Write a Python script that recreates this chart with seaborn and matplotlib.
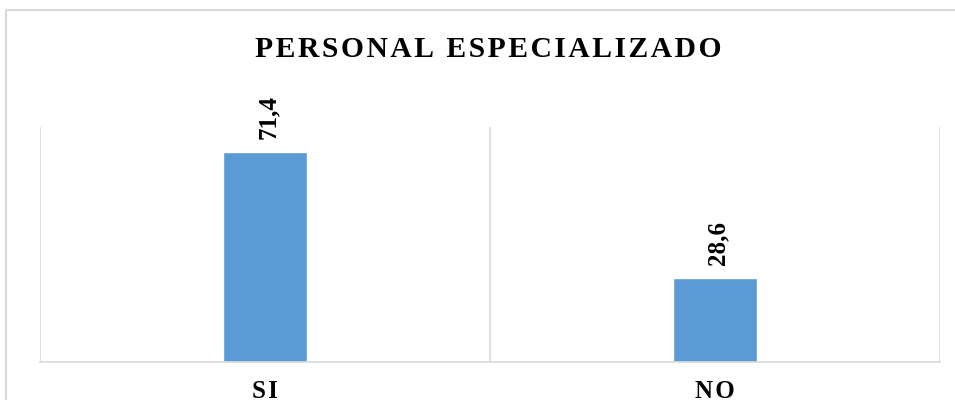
import matplotlib
matplotlib.use("Agg")
import matplotlib.pyplot as plt
import seaborn as sns
import pandas as pd
from matplotlib.lines import Line2D

categories = ["SI", "NO"]
values = [71.4, 28.6]
value_labels = ["71,4", "28,6"]
title = "PERSONAL ESPECIALIZADO"

sns.set_theme(style="white")
plt.rcParams["font.family"] = ["Liberation Serif", "DejaVu Serif"]
plt.rcParams["text.color"] = "black"
plt.rcParams["xtick.color"] = "black"

df = pd.DataFrame({"cat": categories, "val": values})

fig = plt.figure(figsize=(9.55, 4.0), dpi=100)
fig.patch.set_facecolor("white")
# outer chart border (top and left edges visible)
bx, by = 6 / 955, 1 - 10 / 400
fig.add_artist(Line2D([bx, 1.02], [by, by], transform=fig.transFigure, color="#d9d9d9",
                      linewidth=1.5, solid_capstyle="butt"))
fig.add_artist(Line2D([bx, bx], [-0.02, by], transform=fig.transFigure, color="#d9d9d9",
                      linewidth=1.5, solid_capstyle="butt"))

ax = fig.add_axes([40 / 955, 1 - 362 / 400, 900 / 955, (362 - 127) / 400])
sns.barplot(data=df, x="cat", y="val", color="#5b9bd5", width=0.187, ax=ax,
            saturation=1, order=categories)
ax.set_xlim(-0.5, len(categories) - 0.5)
ax.set_ylim(0, 80)
for b in [i - 0.5 for i in range(len(categories) + 1)]:
    ax.axvline(b, color="#d9d9d9", linewidth=1.2, zorder=0)
for s in ["top", "left", "right"]:
    ax.spines[s].set_visible(False)
ax.spines["bottom"].set_color("#d9d9d9")
ax.spines["bottom"].set_linewidth(1.2)
ax.set_yticks([])
ax.set_xlabel("")
ax.set_ylabel("")
ax.tick_params(axis="x", length=0, pad=13)
ax.set_xticks(range(len(categories)))
ax.set_xticklabels(["\u200a".join(c) for c in categories], fontsize=18,
                   fontweight="bold", color="black")

for i, (v, lab) in enumerate(zip(values, value_labels)):
    ax.annotate(lab, xy=(i, v), xytext=(3, 13), textcoords="offset pixels",
                rotation=90, ha="center", va="bottom", fontsize=18, fontweight="bold",
                color="black")

spaced = "\u200a".join(title)
fig.text(488 / 955, 1 - 57 / 400, spaced, ha="center", va="baseline",
         fontsize=21.3, fontweight="bold", color="black")

fig.savefig("out.png", dpi=100, facecolor="white")
